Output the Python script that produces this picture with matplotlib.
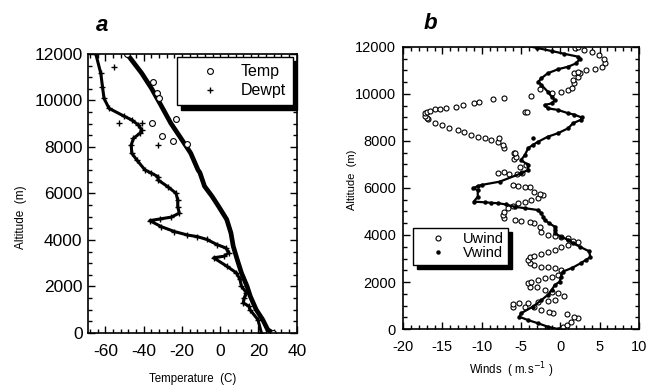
import matplotlib
matplotlib.use("Agg")
import matplotlib.pyplot as plt
from matplotlib.lines import Line2D
from matplotlib.ticker import MultipleLocator

plt.rcParams['font.family'] = ['Liberation Sans', 'DejaVu Sans']
plt.rcParams['axes.unicode_minus'] = False

# ---------------- Panel a data (temperature profile) ----------------
temp_alt = [0, 140, 570, 1000, 1580, 2010, 2580, 3150, 3730, 4300, 4880, 5450, 5880,
            6310, 6890, 7010, 7730, 8370, 9020, 9800, 10520, 11170, 12000]
temp_val = [27.4, 24.8, 22.2, 18.8, 15.7, 14.0, 11.1, 8.9, 6.8, 5.6, 3.4, -0.9, -4.3,
            -8.2, -10.6, -11.6, -15.4, -20.5, -25.8, -31.0, -35.9, -41.0, -48.7]
temp_out_alt = [10780, 10300, 10100, 9190, 9040, 8470, 8260, 8130, 12000, 0]
temp_out_val = [-35.0, -33.0, -32.0, -23.1, -35.5, -30.3, -24.8, -17.1, -48.7, 27.4]

dew_alt = [0, 570, 1000, 1150, 1290, 1500, 1720, 2010, 2300, 2580, 2870, 3230, 3300,
           3450, 3650, 3800, 4020, 4140, 4210, 4360, 4570, 4830, 4980, 5150, 5430,
           5720, 6010, 6290, 6580, 6720, 6870, 7010, 7440, 7730, 8080, 8370, 8590,
           8730, 8940, 9160, 9330, 9660, 10090, 10590, 11170, 12000]
dew_val = [21.5, 19.7, 15.5, 15.0, 12.0, 12.5, 13.7, 11.1, 10.3, 8.5, 3.4, -3.4, 2.0,
           4.5, 3.0, -1.7, -7.0, -11.9, -17.1, -23.9, -30.8, -36.8, -25.6, -21.4, -22.2,
           -22.2, -23.1, -27.4, -32.5, -32.5, -35.9, -39.3, -43.6, -46.2, -46.5, -45.3, -41.9,
           -41.0, -42.7, -46.2, -50.4, -58.1, -60.7, -61.5, -62.4, -65.0]
dew_out_alt = [11420, 9040, 9040, 8080, 4890]
dew_out_val = [-55.5, -52.7, -41.0, -32.5, -31.6]

# ---------------- Panel b data (winds) ----------------
u_alt = [0, 100, 170, 310, 460, 520, 640, 690, 740, 810, 950, 950, 950, 1060, 1090,
         1120, 1160, 1200, 1230, 1400, 1520, 1590, 1660, 1770, 1800, 1940, 2010, 2090,
         2160, 2230, 2300, 2510, 2580, 2620, 2650, 2720, 2800, 2940, 3050, 3110, 3190,
         3290, 3360, 3480, 3570, 3720, 3760, 3860, 3930, 3960, 4000, 4140, 4350, 4520,
         4570, 4610, 4640, 4740, 4850, 4990, 5140, 5230, 5350, 5420, 5490, 5560, 5700,
         5740, 5840, 6030, 6060, 6080, 6130, 6580, 6600, 6620, 6620, 6690, 6900, 6980,
         7230, 7330, 7470, 7480, 7690, 7830, 7970, 8040, 8110, 8140, 8180, 8250, 8400,
         8470, 8540, 8680, 8780, 8920, 8960, 9060, 9180, 9250, 9250, 9250, 9290, 9350,
         9360, 9400, 9460, 9520, 9630, 9670, 9790, 9840, 9930, 10030, 10100, 10170,
         10200, 10240, 10450, 10590, 10740, 10880, 10880, 10950, 11000, 11080, 11150,
         11300, 11500, 11660, 11800, 11870, 11940, 12010]
u_val = [0.1, 0.3, 0.8, 1.4, 2.2, 1.8, 0.8, -0.9, -1.4, -2.4, -3.3, -4.5, -6.0, -6.0, -5.2,
         -4.1, -2.8, -1.6, -0.7, 0.5, -0.3, -1.1, -2.0, -3.0, -3.9, -4.1, -3.7, -2.8,
         -2.0, -1.1, -0.3, 0.1, -0.7, -1.6, -2.4, -3.3, -3.9, -4.1, -3.9, -3.3, -2.4,
         -1.6, -0.7, 0.1, 1.0, 2.2, 1.6, 1.0, 0.1, -0.7, -1.6, -2.4, -2.6, -3.3,
         -3.9, -5.0, -5.8, -7.1, -7.3, -7.1, -6.6, -6.0, -5.4, -4.5, -3.7, -2.8, -2.2,
         -2.6, -3.3, -3.9, -4.5, -5.4, -6.0, -5.5, -6.5, -7.9, -4.9, -7.1, -5.1, -4.4,
         -5.9, -5.6, -5.9, -5.8, -7.1, -7.3, -7.9, -8.8, -9.6, -7.8, -10.5, -11.3, -12.2,
         -13.0, -14.1, -15.1, -16.0, -16.8, -17.0, -17.2, -17.2, -17.0, -4.5, -4.2, -16.6, -16.0,
         -15.3, -14.5, -13.3, -12.4, -11.0, -10.4, -8.6, -7.1, -3.7, -1.1, 0.1, 1.0,
         -2.6, 1.5, 1.8, 1.6, 2.2, 1.8, 2.5, 2.2, 3.3, 4.4, 5.3,
         5.7, 5.5, 4.9, 4.0, 3.0, 1.9, 2.3]

v_alt = [0, 100, 240, 380, 520, 670, 950, 1230, 1450, 1660, 1870, 2010, 2230, 2440,
         2600, 2800, 2950, 3050, 3300, 3500, 3650, 3790, 3930, 4070, 4210, 4350, 4500,
         4640, 4780, 4920, 5060, 5140, 5200, 5300, 5350, 5370, 5390, 5420, 5630, 5910,
         5990, 6080, 6130, 6270, 6620, 6770, 6980, 7190, 7400, 7690, 7830, 7970, 8180,
         8330, 8540, 8750, 8900, 9000, 9120, 9180, 9320, 9390, 9530, 9600, 9740, 9880,
         10100, 10380, 10520, 10670, 10880, 11050, 11160, 11300, 11500, 11590, 11710,
         11820, 11960, 12080]
v_val = [-0.3, -1.6, -2.8, -4.1, -5.2, -5.0, -3.5, -2.4, -1.6, -1.1, -0.7, -0.1, 0.1, 0.3,
         1.5, 2.6, 3.3, 3.8, 3.7, 2.5, 1.6, 1.0, 0.1, -0.7, -0.7, -0.7, -1.4,
         -2.0, -2.2, -2.4, -2.8, -4.5, -5.8, -6.9, -7.9, -8.8, -9.6, -11.0, -10.5, -10.5,
         -11.1, -10.5, -10.0, -7.7, -5.0, -4.1, -4.1, -5.0, -4.5, -4.1, -3.5, -2.8, -1.6,
         -0.3, 1.0, 1.6, 2.6, 2.7, 1.8, 1.0, -0.3, -1.6, -2.0, -1.1, -0.7, -1.1,
         -1.6, -2.4, -2.8, -2.4, -1.6, -0.3, 1.0, 2.0, 2.5, 2.2, 0.5,
         -1.0, -3.0, -4.7]
v_out_alt = [8140]
v_out_val = [-3.5]

a_xticks = [-60, -40, -20, 0, 20, 40]
b_xticks = [-20, -15, -10, -5, 0, 5, 10]
yticks = [0, 2000, 4000, 6000, 8000, 10000, 12000]

fig = plt.figure(figsize=(6.48, 3.88), dpi=100)

def style(ax, size, xpad, ypad):
    ax.tick_params(which='both', direction='in', top=True, right=True, width=1.0)
    ax.tick_params(axis='x', labelsize=size, pad=xpad)
    ax.tick_params(axis='y', labelsize=size, pad=ypad)
    ax.tick_params(which='major', length=5)
    ax.tick_params(which='minor', length=3)
    for s in ax.spines.values():
        s.set_linewidth(1.2)
    ax.set_yticks(yticks)
    ax.yaxis.set_minor_locator(MultipleLocator(500))

# ---- panel a
axa = fig.add_axes([0.136, 0.142, 0.322, 0.719])
axa.plot(temp_val, temp_alt, color='black', lw=3.4, solid_capstyle='round')
axa.plot(temp_out_val, temp_out_alt, 'o', mfc='white', mec='black', ms=4.2, mew=0.8)
axa.plot(dew_val, dew_alt, color='black', lw=2.2, marker='+', ms=5, mew=1.0)
axa.plot(dew_out_val, dew_out_alt, '+', color='black', ms=5, mew=1.0)
axa.set_xlim(-69, 40)
axa.set_ylim(0, 12000)
style(axa, 12.5, 8, 4)
axa.set_xticks(a_xticks)
axa.xaxis.set_minor_locator(MultipleLocator(4))
axa.set_ylabel('Altitude  (m)', fontsize=8.5)
axa.yaxis.set_label_coords(-0.295, 0.416)
axa.set_xlabel('Temperature  (C)', fontsize=8.3, labelpad=10)
ha = [Line2D([], [], ls='none', marker='o', mfc='white', mec='black', ms=4.2, mew=0.8),
      Line2D([], [], ls='none', marker='+', color='black', ms=5, mew=1.0)]
lga = axa.legend(ha, ['Temp', 'Dewpt'], loc='upper right', fontsize=11.5,
                 bbox_to_anchor=(0.981, 0.989), borderaxespad=0, fancybox=False,
                 framealpha=1, edgecolor='black',
                 shadow={'color': 'black', 'alpha': 1, 'ox': 3, 'oy': -3},
                 handletextpad=0.3, borderpad=0.45, labelspacing=0.25,
                 handlelength=3.2)
lga.get_frame().set_linewidth(1.0)

# ---- panel b
axb = fig.add_axes([0.622, 0.152, 0.364, 0.727])
axb.plot(u_val, u_alt, 'o', mfc='white', mec='black', ms=3.6, mew=0.8, ls='none')
axb.plot(v_val, v_alt, color='black', lw=1.6, marker='o', ms=2.2)
axb.plot(v_out_val, v_out_alt, 'o', color='black', ms=2.2, ls='none')
axb.set_xlim(-20, 10)
axb.set_ylim(0, 12000)
style(axb, 10.5, 8, 5)
axb.set_xticks(b_xticks)
axb.xaxis.set_minor_locator(MultipleLocator(1))
axb.set_ylabel('Altitude  (m)', fontsize=8)
axb.yaxis.set_label_coords(-0.195, 0.528)
axb.set_xlabel('Winds  ( m.s$^{-1}$ )', fontsize=8.3)
axb.xaxis.set_label_coords(0.46, -0.112)
hb = [Line2D([], [], ls='none', marker='o', mfc='white', mec='black', ms=3.6, mew=0.8),
      Line2D([], [], ls='none', marker='o', color='black', ms=2.2)]
lgb = axb.legend(hb, ['Uwind', 'Vwind'], loc='upper left', fontsize=10.5,
                 bbox_to_anchor=(0.042, 0.358), borderaxespad=0, fancybox=False,
                 framealpha=1, edgecolor='black',
                 shadow={'color': 'black', 'alpha': 1, 'ox': 3, 'oy': -3},
                 handletextpad=0.2, borderpad=0.3, labelspacing=0.0, handlelength=2.9)
lgb.get_frame().set_linewidth(1.0)

fig.text(0.158, 0.92, 'a', fontsize=16, fontweight='bold', fontstyle='italic', ha='center')
fig.text(0.665, 0.925, 'b', fontsize=16, fontweight='bold', fontstyle='italic', ha='center')

fig.savefig('out.png', dpi=100)
